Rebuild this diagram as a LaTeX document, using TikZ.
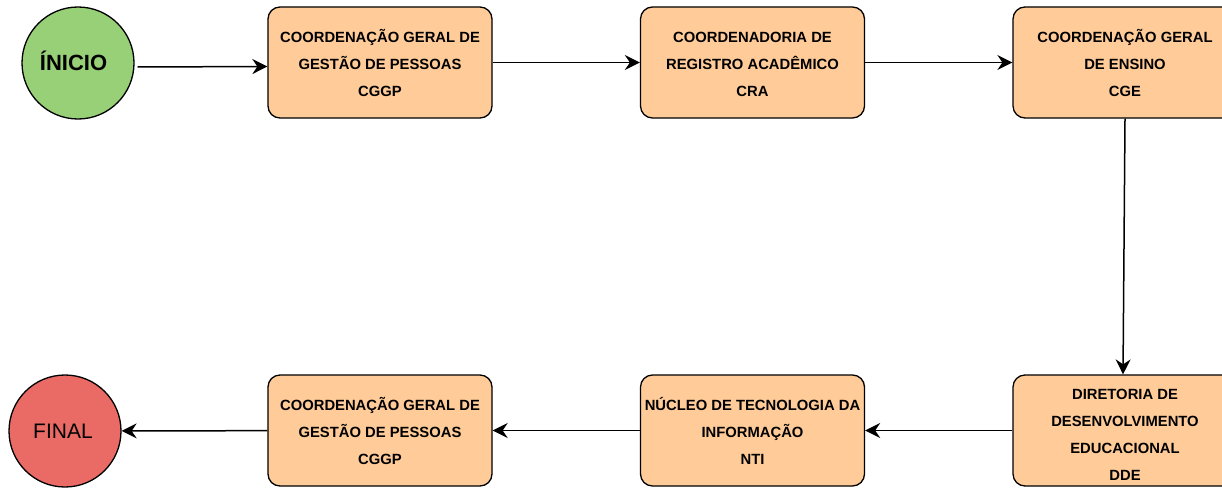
\documentclass[tikz,border=0pt]{standalone}
\usepackage{fontspec}
\setmainfont{Liberation Sans}
\usetikzlibrary{arrows.meta}
\definecolor{startgreen}{HTML}{97D077}
\definecolor{endred}{HTML}{EA6B66}
\definecolor{boxorange}{HTML}{FFCC99}
\newcommand\boxlines[2][-2pt]{\raisebox{#1}[\height][\depth]{\begin{tabular}{@{}c@{}}#2\end{tabular}}}
\begin{document}
\begin{tikzpicture}[x=1pt,y=-1pt,
  stepbox/.style={draw, fill=boxorange, rounded corners=12pt, minimum width=224pt, minimum height=111pt, line width=1.3pt, align=center, inner sep=0pt, font=\fontsize{14.8}{27}\selectfont\bfseries},
  endpoint/.style={draw, circle, minimum size=112pt, line width=1.3pt, inner sep=0pt},
  arr/.style={line width=1.5pt, -{Stealth[length=15pt,width=15pt,inset=5pt]}}]
\useasboundingbox (0,0) rectangle (1222,487);
\clip (0,0) rectangle (1222,487);
\node[endpoint, fill=startgreen, font=\fontsize{22}{26}\selectfont\bfseries] (inicio) at (78,63) {\hspace*{-9pt}\raisebox{2.5pt}[\height][\depth]{ÍNICIO}};
\node[stepbox] (cggp1) at (380,62.5) {\boxlines{COORDENAÇÃO GERAL DE\\GESTÃO DE PESSOAS\\CGGP}};
\node[stepbox] (cra) at (752.5,62.5) {\boxlines{COORDENADORIA DE\\REGISTRO ACADÊMICO\\CRA}};
\node[stepbox] (cge) at (1125,62.5) {\boxlines{COORDENAÇÃO GERAL\\DE ENSINO\\CGE}};
\node[stepbox] (dde) at (1125,430.5) {\boxlines[-4pt]{DIRETORIA DE\\DESENVOLVIMENTO\\EDUCACIONAL\\DDE}};
\node[stepbox] (nti) at (752.5,430.5) {\boxlines{NÚCLEO DE TECNOLOGIA DA\\INFORMAÇÃO\\NTI}};
\node[stepbox] (cggp2) at (380,430.5) {\boxlines{COORDENAÇÃO GERAL DE\\GESTÃO DE PESSOAS\\CGGP}};
\node[endpoint, fill=endred, font=\fontsize{21}{25}\selectfont] (final) at (65,431) {\hspace*{-4pt}FINAL};
\draw[arr] ([xshift=3pt,yshift=-4pt]inicio.east) -- ([yshift=-4pt]cggp1.west);
\draw[arr] (cggp1) -- (cra);
\draw[arr] (cra) -- (cge);
\draw[arr] (cge.south) -- ([xshift=-2pt]dde.north);
\draw[arr] (dde) -- (nti);
\draw[arr] (nti) -- (cggp2);
\draw[arr] (cggp2) -- (final);
\end{tikzpicture}
\end{document}
